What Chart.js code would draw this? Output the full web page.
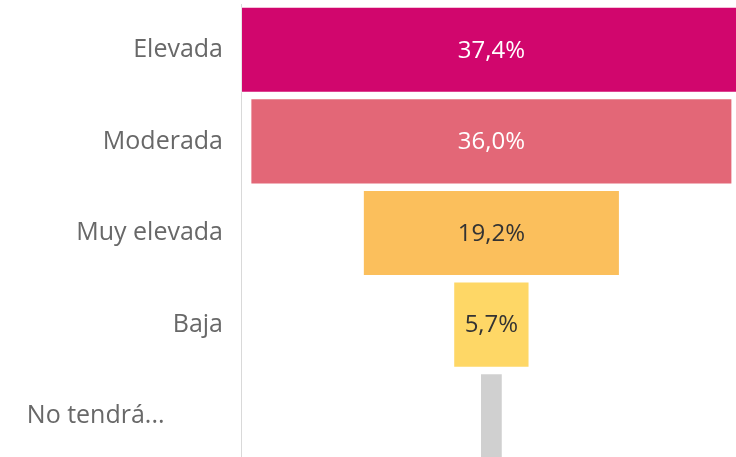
<!DOCTYPE html>
<html>
<head>
<meta charset="utf-8">
<script src="https://cdn.jsdelivr.net/npm/chart.js@4"></script>
<style>
  html, body { margin: 0; padding: 0; background: #fff; overflow: hidden; }
  #wrap { position: relative; width: 736px; height: 462px; }
</style>
</head>
<body>
<div id="wrap"><canvas id="funnelChart"></canvas></div>
<script>
// ========================================
// Data
// ========================================
const categories = ['Elevada', 'Moderada', 'Muy elevada', 'Baja', 'No tendrá...'];
const shares = [37.4, 36.0, 19.2, 5.7, 1.7];
const barColors = ['#d1066d', '#e36777', '#fbbf5c', '#fed766', '#d0d0d0'];
const labelColors = ['#ffffff', '#ffffff', '#333333', '#333333', '#333333'];

// funnel: each bar is centered on zero
const funnelData = shares.map(v => [-v / 2, v / 2]);

function formatShare(v) {
  return v.toFixed(1).replace('.', ',') + '%';
}

// draw value labels in the middle of the bars (only if they fit)
const barLabels = {
  id: 'barLabels',
  afterDatasetsDraw(chart) {
    const ctx = chart.ctx;
    const meta = chart.getDatasetMeta(0);
    const area = chart.chartArea;
    ctx.save();
    ctx.font = '400 24px "Open Sans"';
    ctx.textAlign = 'center';
    ctx.textBaseline = 'middle';
    meta.data.forEach((bar, i) => {
      const text = formatShare(shares[i]);
      const left = Math.max(Math.min(bar.x, bar.base), area.left);
      const right = Math.min(Math.max(bar.x, bar.base), area.right);
      if (right - left < ctx.measureText(text).width + 8) return;
      ctx.fillStyle = labelColors[i];
      ctx.fillText(text, (Math.min(bar.x, bar.base) + Math.max(bar.x, bar.base)) / 2, bar.y + 1);
    });
    ctx.restore();
  }
};

new Chart(document.getElementById('funnelChart'), {
  type: 'bar',
  data: {
    labels: categories,
    datasets: [{
      data: funnelData,
      backgroundColor: barColors,
      borderColor: 'rgba(255,255,255,0.35)',
      borderWidth: 1,
      borderSkipped: false,
      categoryPercentage: 1,
      barPercentage: 0.94
    }]
  },
  options: {
    indexAxis: 'y',
    responsive: true,
    maintainAspectRatio: false,
    animation: false,
    layout: { padding: { top: 4, bottom: 0, left: 0, right: 0 } },
    plugins: {
      legend: { display: false },
      tooltip: { enabled: false }
    },
    scales: {
      x: {
        display: false,
        min: -18.7,
        max: 18.27
      },
      y: {
        afterFit: scale => {
          scale.width = 241;
          scale.paddingTop = 0;
          scale.paddingBottom = 0;
        },
        grid: { display: false, drawTicks: false },
        border: { display: true, color: '#d9d9d9', width: 1 },
        ticks: {
          padding: 18,
          color: '#686868',
          font: { family: '"Open Sans"', size: 25, weight: '400' },
          // truncated label sits further left, as in the original
          callback: function(value, index) {
            const label = this.getLabelForValue(value);
            return label.endsWith('...') ? label + '\u00a0'.repeat(9) : label;
          }
        }
      }
    }
  },
  plugins: [barLabels]
});
</script>
</body>
</html>
